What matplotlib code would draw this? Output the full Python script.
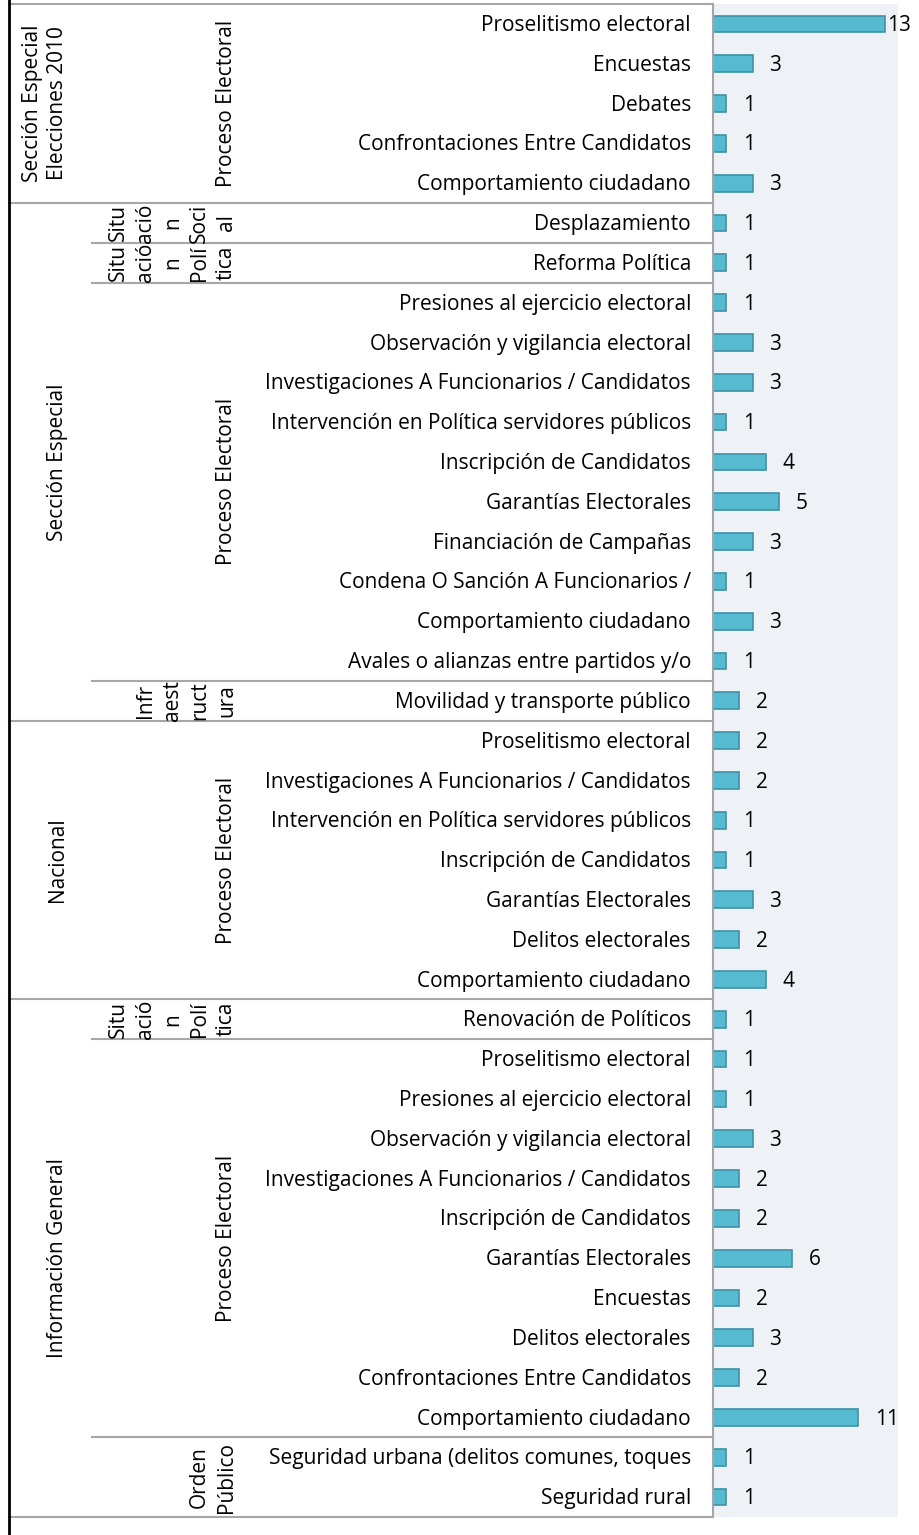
import matplotlib
matplotlib.use("Agg")
import matplotlib.pyplot as plt
import matplotlib.transforms as mtransforms
import numpy as np

plt.rcParams['font.family'] = ['Open Sans', 'DejaVu Sans']

# categories, top to bottom
categories = [
    "Proselitismo electoral", "Encuestas", "Debates", "Confrontaciones Entre Candidatos",
    "Comportamiento ciudadano",
    "Desplazamiento", "Reforma Política",
    "Presiones al ejercicio electoral", "Observación y vigilancia electoral",
    "Investigaciones A Funcionarios / Candidatos", "Intervención en Política servidores públicos",
    "Inscripción de Candidatos", "Garantías Electorales", "Financiación de Campañas",
    "Condena O Sanción A Funcionarios /", "Comportamiento ciudadano",
    "Avales o alianzas entre partidos y/o",
    "Movilidad y transporte público",
    "Proselitismo electoral", "Investigaciones A Funcionarios / Candidatos",
    "Intervención en Política servidores públicos", "Inscripción de Candidatos",
    "Garantías Electorales", "Delitos electorales", "Comportamiento ciudadano",
    "Renovación de Políticos",
    "Proselitismo electoral", "Presiones al ejercicio electoral",
    "Observación y vigilancia electoral", "Investigaciones A Funcionarios / Candidatos",
    "Inscripción de Candidatos", "Garantías Electorales", "Encuestas",
    "Delitos electorales", "Confrontaciones Entre Candidatos", "Comportamiento ciudadano",
    "Seguridad urbana (delitos comunes, toques", "Seguridad rural",
]
values = [13, 3, 1, 1, 3,
          1, 1,
          1, 3, 3, 1, 4, 5, 3, 1, 3, 1,
          2,
          2, 2, 1, 1, 3, 2, 4,
          1,
          1, 1, 3, 2, 2, 6, 2, 3, 2, 11,
          1, 1]

sections = ["Sección Especial\nElecciones 2010", "Sección Especial", "Nacional", "Información General"]
section_sizes = [5, 13, 7, 13]

subsections = ["Proceso Electoral", "Situ\nació\nn\nSoci\nal", "Situ\nació\nn\nPolí\ntica",
               "Proceso Electoral", "Infr\naest\nruct\nura", "Proceso Electoral",
               "Situ\nació\nn\nPolí\ntica", "Proceso Electoral", "Orden\nPúblico"]
subsection_sizes = [5, 1, 1, 10, 1, 7, 1, 10, 2]

W, H = 920, 1535
fig = plt.figure(figsize=(W / 100, H / 100), dpi=100)
ax_l, ax_r, ax_t, ax_b = 713, 898, 4, 1517
ax = fig.add_axes([ax_l / W, 1 - ax_b / H, (ax_r - ax_l) / W, (ax_b - ax_t) / H])
ax.set_facecolor("#eef2f7")

y = np.arange(len(categories))
ax.barh(y, values, height=0.42, color="#56bad1", edgecolor="#3d91a6", linewidth=1.2)
ax.set_xlim(0, 14)
ax.set_ylim(len(categories) - 0.5, -0.5)
ax.set_xticks([])
ax.set_yticks([])
for s in ["top", "right", "bottom"]:
    ax.spines[s].set_visible(False)
ax.spines["left"].set_color("#a6a6a6")
ax.spines["left"].set_linewidth(1.5)

fs = 15
for yi, v in zip(y, values):
    xpos = v + 1.25 if v + 1.25 < 12.5 else v + 0.15
    ax.text(xpos, yi + 0.04, str(v), ha="left", va="center", fontsize=fs, color="black", clip_on=False)

# x in pixels, y in data
def px(x):
    return (x - ax_l) / (ax_r - ax_l)

tr = mtransforms.blended_transform_factory(ax.transAxes, ax.transData)

for yi, c in zip(y, categories):
    ax.text(px(691), yi + 0.04, c, ha="right", va="center", fontsize=fs, transform=tr, clip_on=False)

grey = "#a6a6a6"
start = 0
bounds = [0]
for name, n in zip(sections, section_sizes):
    ax.text(px(68), start + (n - 1) / 2, name, rotation=90, ha="right", va="center",
            multialignment="center", fontsize=fs, linespacing=1.25, transform=tr, clip_on=False)
    start += n
    bounds.append(start)
for b in bounds:
    ax.plot([px(9), px(ax_l)], [b - 0.5, b - 0.5], color=grey, lw=1.5, transform=tr, clip_on=False)

start = 0
for name, n in zip(subsections, subsection_sizes):
    ax.text(px(237), start + (n - 1) / 2, name, rotation=90, ha="right", va="center",
            multialignment="center", fontsize=fs, linespacing=1.38, transform=tr, clip_on=False)
    if start not in bounds:
        ax.plot([px(92), px(ax_l)], [start - 0.5, start - 0.5], color=grey, lw=1.5,
                transform=tr, clip_on=False)
    start += n

fig.add_artist(plt.Line2D([9 / W, 9 / W], [0, 1], color="black", lw=2))

fig.savefig("out.png", dpi=100)
